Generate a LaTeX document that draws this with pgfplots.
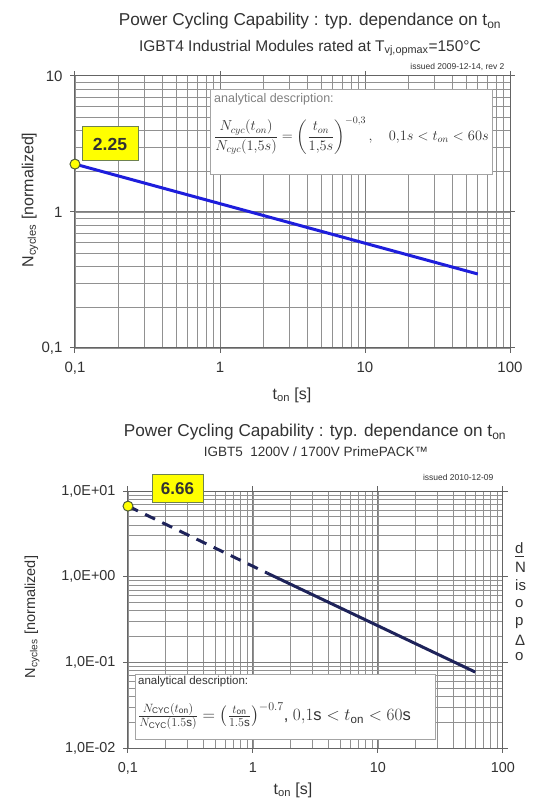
\documentclass[border=0pt]{standalone}
\usepackage{amsmath}
\usepackage{fontspec}
\setmainfont{Liberation Sans}
\usepackage{pgfplots}
\pgfplotsset{compat=1.18}
\definecolor{gridc}{RGB}{125,125,125}
\definecolor{txtc}{RGB}{50,50,50}
\definecolor{topline}{RGB}{30,30,220}
\definecolor{botline}{RGB}{30,35,90}
\definecolor{hl}{RGB}{255,255,0}
\definecolor{hlb}{RGB}{110,130,80}

\begin{document}
\begin{tikzpicture}[x=1pt,y=1pt]
\path[use as bounding box] (0,0) rectangle (535,801);

% ---------------- top chart ----------------
\begin{axis}[
  xmode=log, ymode=log,
  scale only axis,
  anchor=south west,
  at={(75pt,453pt)}, width=435pt, height=272pt,
  xmin=0.1, xmax=100, ymin=0.1, ymax=10,
  grid=both,
  major grid style={gridc, line width=1pt},
  minor grid style={gridc!85, line width=0.8pt},
  axis line style={gridc!80!black, line width=1pt},
  tick align=outside,
  major tick length=5pt, minor tick length=0pt,
  tick style={gridc!80!black, line width=1pt},
  xtick={0.1,1,10,100},
  xticklabels={{0,1},1,10,100},
  ytick={0.1,1,10}, yticklabels={{0,1},1,10},
  ticklabel style={font=\fontsize{15}{17}\selectfont, text=txtc},
  xticklabel style={yshift=-6pt},
  yticklabel style={xshift=-4pt},
]
\addplot[topline, line width=3pt] coordinates {(0.1,2.25) (60,0.35)};
\addplot[draw=hlb!70!black, fill=hl, line width=1pt, only marks, mark=*, mark size=5pt] coordinates {(0.1,2.25)};
\end{axis}

\node[font=\fontsize{17.2}{19}\selectfont, text=txtc] at (310,780) {Power Cycling Capability : typ. dependance on t\textsubscript{on}};
\node[font=\fontsize{15.5}{17}\selectfont, text=txtc] at (310,753) {IGBT4 Industrial Modules rated at T\textsubscript{vj,opmax}=150°C};
\node[font=\fontsize{8.5}{10}\selectfont, text=txtc, anchor=east] at (508,734) {issued 2009-12-14, rev 2};
\node[font=\fontsize{16}{18}\selectfont, text=txtc, rotate=90] at (30,601) {N\textsubscript{cycles} [normalized]};
\node[font=\fontsize{16}{18}\selectfont, text=txtc] at (292,406) {t\textsubscript{on} [s]};

\draw[fill=white, draw=gridc!70, line width=1pt] (210,711) rectangle (492,626);
\node[font=\fontsize{12.5}{14}\selectfont, text=gray, anchor=north west, inner sep=1pt] at (213,709) {analytical description:};
\node[anchor=west, inner sep=0pt, text=txtc, font=\fontsize{14}{16}\selectfont] at (214,665)
  {$\dfrac{N_{cyc}(t_{on})}{N_{cyc}(1{,}5s)} = \left(\dfrac{t_{on}}{1{,}5s}\right)^{-0{,}3},\quad 0{,}1s < t_{on} < 60s$};

\draw[fill=hl, draw=hlb, line width=1pt] (82,674) rectangle (138,640);
\node[font=\bfseries\fontsize{17.5}{19}\selectfont, text=txtc] at (110,657) {2.25};

% ---------------- bottom chart ----------------
\begin{axis}[
  xmode=log, ymode=log,
  scale only axis,
  anchor=south west,
  at={(128pt,53pt)}, width=375pt, height=257pt,
  xmin=0.1, xmax=100, ymin=0.01, ymax=10,
  grid=both,
  major grid style={gridc, line width=1pt},
  minor grid style={gridc!85, line width=0.8pt},
  axis line style={gridc!80!black, line width=1pt},
  tick align=outside,
  major tick length=5pt, minor tick length=0pt,
  tick style={gridc!80!black, line width=1pt},
  xtick={0.1,1,10,100},
  xticklabels={{0,1},1,10,100},
  ytick={0.01,0.1,1,10}, yticklabels={{1,0E-02},{1,0E-01},{1,0E+00},{1,0E+01}},
  ticklabel style={font=\fontsize{14.4}{16}\selectfont, text=txtc},
  xticklabel style={yshift=-6pt},
  yticklabel style={xshift=-4pt},
]
\addplot[botline, line width=3pt, dash pattern=on 11pt off 8pt] coordinates {(0.1,6.66) (1.3,1.1)};
\addplot[botline, line width=3pt] coordinates {(1.3,1.1) (60,0.077)};
\addplot[draw=hlb!70!black, fill=hl, line width=1pt, only marks, mark=*, mark size=5pt] coordinates {(0.1,6.66)};
\end{axis}

\node[font=\fontsize{17.2}{19}\selectfont, text=txtc] at (315,369) {Power Cycling Capability : typ. dependance on t\textsubscript{on}};
\node[font=\fontsize{13.5}{15}\selectfont, text=txtc] at (316,349) {IGBT5\ \ 1200V / 1700V PrimePACK™};
\node[font=\fontsize{8.5}{10}\selectfont, text=txtc, anchor=east] at (497,324) {issued 2010-12-09};
\node[font=\fontsize{14.5}{16}\selectfont, text=txtc, rotate=90] at (32,184) {N\textsubscript{cycles} [normalized]};
\node[font=\fontsize{16}{18}\selectfont, text=txtc] at (293,11) {t\textsubscript{on} [s]};

\draw[fill=white, draw=gridc!70, line width=1pt] (135,126) rectangle (435,61);
\node[font=\fontsize{11.5}{13}\selectfont, text=txtc, anchor=west, inner sep=0pt] at (138,119) {analytical description:};
\node[anchor=west, inner sep=0pt, text=txtc, font=\fontsize{16.5}{18}\selectfont] at (138,85)
  {$\frac{N_{\mathrm{CYC}}(t_{\mathrm{on}})}{N_{\mathrm{CYC}}(1.5\mathrm{s})} = \left(\frac{t_{\mathrm{on}}}{1.5\mathrm{s}}\right)^{-0.7}$, $0{,}1\mathrm{s} < t_{\mathrm{on}} < 60\mathrm{s}$};

\draw[fill=hl, draw=hlb, line width=1pt] (152,326) rectangle (203,298);
\node[font=\bfseries\fontsize{17}{19}\selectfont, text=txtc] at (177.5,312) {6.66};

% clipped text at the right edge
\begin{scope}
\clip (513,0) rectangle (535,801);
\node[font=\fontsize{15}{17}\selectfont, text=txtc, anchor=west, inner sep=0pt] at (515,251) {\underline{d}};
\node[font=\fontsize{15}{17}\selectfont, text=txtc, anchor=west, inner sep=0pt] at (515,234) {N};
\node[font=\fontsize{15}{17}\selectfont, text=txtc, anchor=west, inner sep=0pt] at (515,216) {is};
\node[font=\fontsize{15}{17}\selectfont, text=txtc, anchor=west, inner sep=0pt] at (515,197) {o};
\node[font=\fontsize{15}{17}\selectfont, text=txtc, anchor=west, inner sep=0pt] at (515,178) {p};
\node[font=\fontsize{15}{17}\selectfont, text=txtc, anchor=west, inner sep=0pt] at (515,161) {Δ};
\node[font=\fontsize{15}{17}\selectfont, text=txtc, anchor=west, inner sep=0pt] at (515,144) {o};
\end{scope}
\end{tikzpicture}
\end{document}
